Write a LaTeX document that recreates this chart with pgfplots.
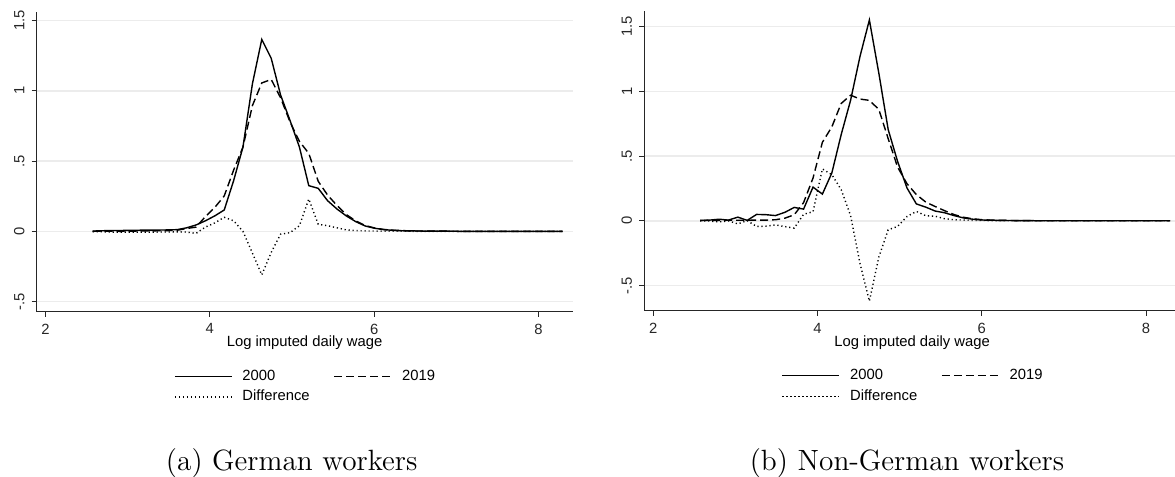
\documentclass[border=0pt]{standalone}
\usepackage{fontspec}
\newfontfamily\arial{Liberation Sans}
\usepackage{pgfplots}
\usepackage{pgfplotstable}
\pgfplotsset{compat=1.18}

\newcommand\axfont{\arial\fontsize{7.4pt}{8.9pt}\selectfont}

% Kernel density of log imputed daily wage: x, 2000, 2019, difference (2019 - 2000)
\pgfplotstableread{
x     a      b      d
2.573 0.002  0.000  -0.002
2.687 0.004  0.001  -0.003
2.802 0.006  0.001  -0.005
2.916 0.006  0.000  -0.006
3.031 0.007  0.001  -0.006
3.145 0.008  0.002  -0.006
3.259 0.009  0.003  -0.006
3.374 0.009  0.004  -0.005
3.488 0.010  0.005  -0.005
3.603 0.012  0.008  -0.004
3.717 0.025  0.020  -0.005
3.831 0.045  0.030  -0.015
3.946 0.075  0.105  0.030
4.060 0.110  0.170  0.060
4.175 0.152  0.252  0.100
4.289 0.360  0.435  0.075
4.403 0.600  0.600  0.000
4.518 1.050  0.895  -0.155
4.632 1.366  1.056  -0.310
4.747 1.231  1.081  -0.150
4.861 0.970  0.950  -0.020
4.975 0.790  0.780  -0.010
5.090 0.600  0.640  0.040
5.204 0.325  0.555  0.230
5.319 0.306  0.356  0.050
5.433 0.218  0.258  0.040
5.547 0.159  0.184  0.025
5.662 0.109  0.119  0.010
5.776 0.069  0.074  0.005
5.891 0.038  0.041  0.003
6.005 0.022  0.024  0.002
6.119 0.012  0.013  0.001
6.234 0.007  0.008  0.001
6.348 0.004  0.005  0.001
6.463 0.003  0.003  0.000
6.577 0.002  0.002  0.000
6.691 0.001  0.001  0.000
6.806 0.001  0.001  0.000
6.920 0.001  0.001  0.000
7.035 0.000  0.000  0.000
7.149 0.000  0.000  0.000
7.263 0.000  0.000  0.000
7.378 0.000  0.000  0.000
7.492 0.000  0.000  0.000
7.607 0.000  0.000  0.000
7.721 0.000  0.000  0.000
7.835 0.000  0.000  0.000
7.950 0.000  0.000  0.000
8.064 0.000  0.000  0.000
8.179 0.000  0.000  0.000
8.293 0.000  0.000  0.000
}\german

\pgfplotstableread{
x     a      b      d
2.573 0.003  0.002  -0.001
2.687 0.005  0.003  -0.002
2.802 0.012  0.003  -0.009
2.916 0.005  0.004  -0.001
3.031 0.028  0.004  -0.024
3.145 0.003  0.004  0.001
3.259 0.049  0.005  -0.044
3.374 0.047  0.005  -0.042
3.488 0.040  0.008  -0.032
3.603 0.065  0.020  -0.045
3.717 0.103  0.046  -0.057
3.831 0.090  0.140  0.050
3.946 0.260  0.330  0.070
4.060 0.206  0.606  0.400
4.175 0.369  0.725  0.356
4.289 0.666  0.906  0.240
4.403 0.930  0.970  0.040
4.518 1.270  0.940  -0.330
4.632 1.551  0.930  -0.621
4.747 1.140  0.860  -0.280
4.861 0.704  0.634  -0.070
4.975 0.459  0.415  -0.044
5.090 0.253  0.286  0.033
5.204 0.130  0.202  0.072
5.319 0.105  0.144  0.039
5.433 0.075  0.110  0.035
5.547 0.062  0.078  0.016
5.662 0.040  0.048  0.008
5.776 0.022  0.027  0.005
5.891 0.012  0.015  0.003
6.005 0.006  0.008  0.002
6.119 0.004  0.005  0.001
6.234 0.003  0.003  0.000
6.348 0.002  0.002  0.000
6.463 0.001  0.001  0.000
6.577 0.001  0.001  0.000
6.691 0.000  0.000  0.000
6.806 0.000  0.000  0.000
6.920 0.000  0.000  0.000
7.035 0.000  0.000  0.000
7.149 0.000  0.000  0.000
7.263 0.000  0.000  0.000
7.378 0.000  0.000  0.000
7.492 0.000  0.000  0.000
7.607 0.000  0.000  0.000
7.721 0.000  0.000  0.000
7.835 0.000  0.000  0.000
7.950 0.000  0.000  0.000
8.064 0.000  0.000  0.000
8.179 0.000  0.000  0.000
8.293 0.000  0.000  0.000
}\foreign

\pgfplotsset{
  panel/.style={
    scale only axis, width=268.05pt, height=149.85pt,
    xmin=1.89, xmax=8.415,
    axis x line*=bottom, axis y line*=left,
    axis line style={black!85, line width=0.5pt, -},
    tick align=outside, major tick length=2.5pt,
    tick style={black!85, line width=0.5pt},
    xtick={2,4,6,8}, xticklabels={2,4,6,8},
    ytick={-0.5,0,0.5,1,1.5}, yticklabels={-.5,0,.5,1,1.5},
    ymajorgrids, grid style={gray!15, line width=0.75pt},
    ticklabel style={font=\axfont, text=black!85},
    yticklabel style={rotate=90, anchor=south},
    xlabel={Log imputed daily wage},
    xlabel style={font=\axfont, at={(axis description cs:0.5,-0.1168)}, anchor=base},
    legend columns=2,
    legend style={draw=none, fill=none, font=\axfont, inner sep=0pt,
      at={(0.5,-0.18)}, anchor=north,
      nodes={inner xsep=0pt, inner ysep=1.5pt, text height=5.6pt, text depth=1.75pt},
      /tikz/every odd column/.append style={column sep=5pt},
      /tikz/every even column/.append style={column sep=12pt}},
    legend cell align=left,
    legend image code/.code={\draw[#1] (0pt,0pt) -- (28.5pt,0pt);},
  },
  y2000/.style={black, line width=0.7pt, solid},
  y2019/.style={black, line width=0.7pt, dash pattern=on 4pt off 2pt},
  ydiff/.style={black, line width=0.7pt, dash pattern=on 0.6pt off 1.4pt},
}

\begin{document}
\begin{tikzpicture}
\begin{axis}[panel, at={(18.25pt,82.65pt)}, anchor=south west,
  ymin=-0.572, ymax=1.561]
  \addplot[y2000] table[x=x, y=a] {\german};
  \addlegendentry{2000}
  \addplot[y2019] table[x=x, y=b] {\german};
  \addlegendentry{2019}
  \addplot[ydiff] table[x=x, y=d] {\german};
  \addlegendentry{Difference}
\end{axis}

\begin{axis}[panel, at={(322.05pt,83pt)}, anchor=south west,
  ymin=-0.697, ymax=1.618]
  \addplot[y2000] table[x=x, y=a] {\foreign};
  \addlegendentry{2000}
  \addplot[y2019] table[x=x, y=b] {\foreign};
  \addlegendentry{2019}
  \addplot[ydiff] table[x=x, y=d] {\foreign};
  \addlegendentry{Difference}
\end{axis}

\node[anchor=base, font=\fontsize{14.65pt}{17pt}\selectfont] at (145.85pt,3.25pt) {(a) German workers};
\node[anchor=base, font=\fontsize{14.65pt}{17pt}\selectfont] at (453.5pt,3.25pt) {(b) Non-German workers};

\pgfresetboundingbox
\path (0pt,0pt) rectangle (587.5pt,238.5pt);
\end{tikzpicture}
\end{document}
